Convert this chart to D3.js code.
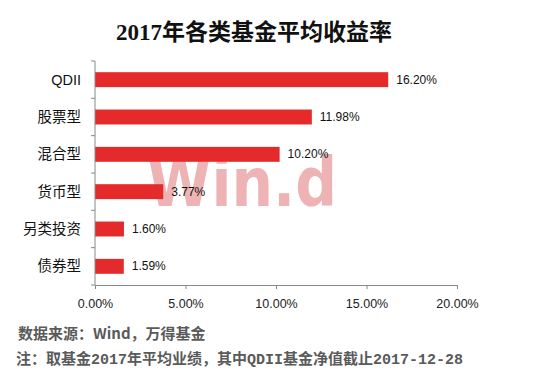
<!DOCTYPE html>
<html>
<head>
<meta charset="utf-8">
<script src="https://cdn.jsdelivr.net/npm/d3@7"></script>
<style>
  body { margin: 0; background: #fff; }
  svg { display: block; }
</style>
</head>
<body>
<div id="chart"></div>
<script>
var categories = ["QDII", "股票型", "混合型", "货币型", "另类投资", "债券型"];
var values = [16.20, 11.98, 10.20, 3.77, 1.60, 1.59];
var tickValues = [0, 5, 10, 15, 20];
var title = "2017年各类基金平均收益率";
var source = "数据来源：Wind，万得基金";
var note = "注：取基金2017年平均业绩，其中QDII基金净值截止2017-12-28";

var width = 536, height = 392;
var margin = {top: 61, right: 79, bottom: 107, left: 95};

var svg = d3.select("#chart").append("svg")
    .attr("width", width)
    .attr("height", height);

var x = d3.scaleLinear()
    .domain([0, 20])
    .range([margin.left, width - margin.right]);

var y = d3.scaleBand()
    .domain(categories)
    .range([margin.top, height - margin.bottom])
    .paddingInner(0.6)
    .paddingOuter(0.3);

// title
svg.append("text")
    .attr("x", 254)
    .attr("y", 40)
    .attr("text-anchor", "middle")
    .style("font-family", "'Liberation Serif', 'Noto Sans CJK SC', serif")
    .style("font-weight", "bold")
    .style("font-size", "23px")
    .style("fill", "#111")
    .text(title);

// watermark
svg.append("text")
    .attr("x", 147)
    .attr("y", 206)
    .attr("textLength", 190)
    .attr("lengthAdjust", "spacingAndGlyphs")
    .style("font-family", "'DejaVu Sans', sans-serif")
    .style("font-weight", "bold")
    .style("font-size", "68px")
    .style("fill", "#eeb3b5")
    .text("Win.d");

// bars
svg.selectAll(".bar")
    .data(values)
    .enter().append("rect")
    .attr("class", "bar")
    .attr("x", x(0))
    .attr("y", function(d, i) { return y(categories[i]); })
    .attr("width", function(d) { return x(d) - x(0); })
    .attr("height", y.bandwidth())
    .style("fill", "#e42a2a");

// value labels
svg.selectAll(".val")
    .data(values)
    .enter().append("text")
    .attr("class", "val")
    .attr("x", function(d) { return x(d) + 8; })
    .attr("y", function(d, i) { return y(categories[i]) + y.bandwidth() / 2 + 4; })
    .style("font-family", "'Liberation Sans', Arial, sans-serif")
    .style("font-size", "12px")
    .style("fill", "#111")
    .text(function(d) { return d.toFixed(2) + "%"; });

// x axis
var xAxis = svg.append("g")
    .attr("transform", "translate(0," + (height - margin.bottom) + ")")
    .call(d3.axisBottom(x)
        .tickValues(tickValues)
        .tickSize(4)
        .tickFormat(function(d) { return d.toFixed(2) + "%"; }));
xAxis.select(".domain").attr("stroke", "#888");
xAxis.selectAll(".tick line").attr("stroke", "#888");
xAxis.selectAll(".tick text")
    .attr("dy", "1.3em")
    .style("font-family", "'Liberation Sans', Arial, sans-serif")
    .style("font-size", "12.5px")
    .style("fill", "#222");

// y axis: ticks sit on the band boundaries
var step = y.step();
var bounds = d3.range(categories.length + 1).map(function(i) { return margin.top + i * step; });
var yAxisG = svg.append("g");
yAxisG.append("line")
    .attr("x1", x(0)).attr("x2", x(0))
    .attr("y1", margin.top).attr("y2", height - margin.bottom)
    .attr("stroke", "#888");
yAxisG.selectAll(".ytick")
    .data(bounds)
    .enter().append("line")
    .attr("class", "ytick")
    .attr("x1", x(0) - 4).attr("x2", x(0))
    .attr("y1", function(d) { return d; }).attr("y2", function(d) { return d; })
    .attr("stroke", "#888");

yAxisG.selectAll(".cat")
    .data(categories)
    .enter().append("text")
    .attr("class", "cat")
    .attr("x", 81)
    .attr("y", function(d) { return y(d) + y.bandwidth() / 2 + 5; })
    .attr("text-anchor", "end")
    .style("font-family", "'Liberation Sans', 'Noto Sans CJK SC', sans-serif")
    .style("font-size", "14.5px")
    .style("fill", "#111")
    .text(function(d) { return d; });

// footer
svg.append("text")
    .attr("x", 18)
    .attr("y", 339)
    .style("font-family", "'Noto Sans CJK SC', sans-serif")
    .style("font-weight", "bold")
    .style("font-size", "15px")
    .style("fill", "#5a5a5a")
    .text(source);

svg.append("text")
    .attr("x", 16)
    .attr("y", 364)
    .style("font-family", "'Liberation Mono', 'Noto Sans CJK SC', monospace")
    .style("font-weight", "bold")
    .style("font-size", "15px")
    .style("fill", "#5a5a5a")
    .text(note);
</script>
</body>
</html>
